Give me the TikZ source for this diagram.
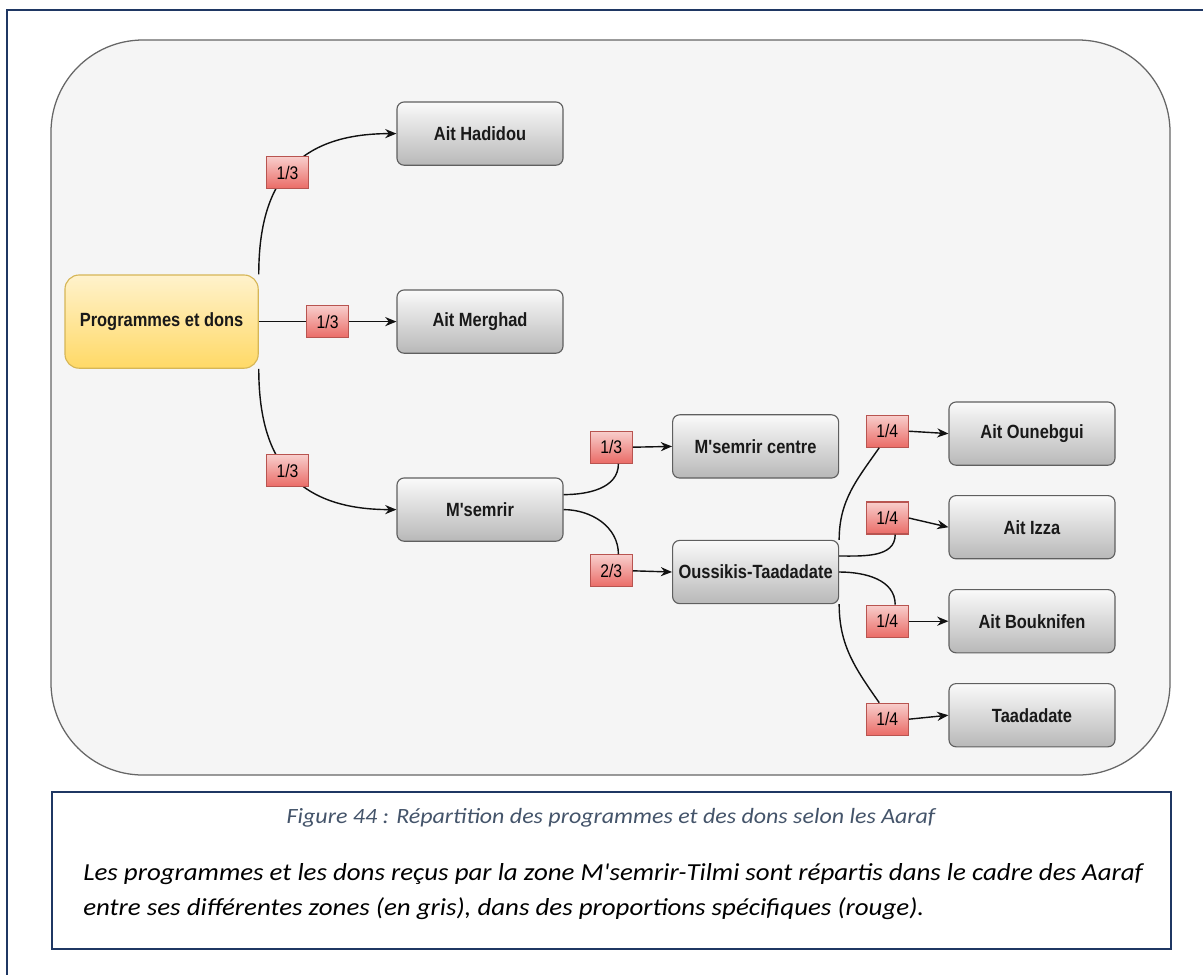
\documentclass[tikz,border=0pt]{standalone}
\usepackage{fontspec}
\usepackage{tikz}
\usetikzlibrary{arrows.meta,positioning,calc}
\newfontfamily\nodefont{Liberation Sans}[FakeStretch=0.86]
\newfontfamily\notefont{Carlito}[FakeStretch=1.1]
\definecolor{frameblue}{HTML}{1F3763}
\definecolor{capgray}{HTML}{44546A}
\definecolor{panelfill}{HTML}{F5F5F5}
\definecolor{panelline}{HTML}{666666}
\definecolor{zonetop}{HTML}{FAFAFA}
\definecolor{zonebot}{HTML}{B8B8B8}
\definecolor{zoneline}{HTML}{5F5F5F}
\definecolor{srctop}{HTML}{FFF2CC}
\definecolor{srcbot}{HTML}{FFD966}
\definecolor{srcline}{HTML}{D6B656}
\definecolor{parttop}{HTML}{F8CECC}
\definecolor{partbot}{HTML}{EA6B66}
\definecolor{partline}{HTML}{B85450}
\definecolor{edgeink}{HTML}{111111}

\begin{document}
\begin{tikzpicture}[
  zone/.style={rectangle, rounded corners=5pt, draw=zoneline, line width=0.8pt, top color=zonetop, bottom color=zonebot, minimum width=4.15cm, minimum height=1.58cm, font=\nodefont\fontsize{13.6}{16}\selectfont\bfseries, text=black!90},
  src/.style={zone, draw=srcline, top color=srctop, bottom color=srcbot, rounded corners=10pt, minimum width=4.83cm, minimum height=2.33cm},
  part/.style={rectangle, draw=partline, line width=0.8pt, top color=parttop, bottom color=partbot, minimum width=1.05cm, minimum height=0.8cm, inner sep=0pt, font=\nodefont\fontsize{13}{15}\selectfont},
  arr/.style={-{Stealth[length=8pt,width=6.5pt]}, line width=1pt, draw=edgeink},
  link/.style={line width=1pt, draw=edgeink},
  note/.style={font=\notefont\itshape\fontsize{17.4}{21}\selectfont, anchor=base west, inner sep=0pt}
]
  \useasboundingbox (0,0) rectangle (30.075,-24.35);
  % page frame and panel
  \draw[frameblue, line width=2pt] (0.175,-24.5) -- (0.175,-0.25) -- (30.2,-0.25);
  \draw[panelline, fill=panelfill, line width=0.9pt, rounded corners=2.3cm] (1.275,-1.0) rectangle (29.25,-19.375);

  % zones
  \node[src] (prog) at (4.04,-8.04) {Programmes et dons};
  \node[zone] (hadidou) at (12.0,-3.34) {Ait Hadidou};
  \node[zone] (merghad) at (12.0,-8.04) {Ait Merghad};
  \node[zone] (msemrir) at (12.0,-12.74) {M'semrir};
  \node[zone] (centre) at (18.89,-11.16) {M'semrir centre};
  \node[zone] (oussikis) at (18.89,-14.3) {Oussikis-Taadadate};
  \node[zone] (ounebgui) at (25.8,-10.84) {Ait Ounebgui};
  \node[zone] (izza) at (25.8,-13.18) {Ait Izza};
  \node[zone] (bouknifen) at (25.8,-15.53) {Ait Bouknifen};
  \node[zone] (taadadate) at (25.8,-17.88) {Taadadate};

  % first level
  \draw[arr] (prog.north east) .. controls +(0,2.1) and +(-2.675,0) .. (hadidou.west) node[part, midway] (p1) {1/3};
  \draw[arr] (prog.east) -- (merghad.west) node[part, midway] (p2) {1/3};
  \draw[arr] (prog.south east) .. controls +(0,-2.1) and +(-2.675,0) .. (msemrir.west) node[part, midway] (p3) {1/3};

  % M'semrir split
  \node[part] (p4) at (15.28,-11.18) {1/3};
  \node[part] (p5) at (15.28,-14.27) {2/3};
  \draw[link] ([yshift=0.375cm]msemrir.east) to[out=0, in=-90] ([xshift=0.18cm]p4.south);
  \draw[arr] (p4.east) -- (centre.west);
  \draw[link] (msemrir.east) to[out=0, in=90] ([xshift=0.18cm]p5.north);
  \draw[arr] (p5.east) -- (oussikis.west);

  % Oussikis-Taadadate split
  \node[part] (p6) at (22.18,-10.78) {1/4};
  \node[part] (p7) at (22.18,-12.95) {1/4};
  \node[part] (p8) at (22.18,-15.53) {1/4};
  \node[part] (p9) at (22.18,-17.98) {1/4};
  \draw[link] (oussikis.north east) to[out=90, in=235] ([xshift=-0.2cm]p6.south);
  \draw[arr] (p6.east) -- (ounebgui.west);
  \draw[link] ([yshift=0.4cm]oussikis.east) to[out=0, in=-90] ([xshift=0.2cm]p7.south);
  \draw[arr] (p7.east) -- (izza.west);
  \draw[link] (oussikis.east) to[out=0, in=90] ([xshift=0.2cm]p8.north);
  \draw[arr] (p8.east) -- (bouknifen.west);
  \draw[link] (oussikis.south east) to[out=-90, in=125] ([xshift=-0.2cm]p9.north);
  \draw[arr] (p9.east) -- (taadadate.west);

  % caption box
  \draw[frameblue, line width=1.6pt] (1.3,-19.8) rectangle (29.275,-23.725);
  \node[font=\notefont\itshape\fontsize{15.5}{19}\selectfont, text=capgray, anchor=base, inner sep=0pt] (caption) at (15.275,-20.575) {Figure 44 : Répartition des programmes et des dons selon les Aaraf};
  \node[note] (note1) at (2.075,-22.0) {Les programmes et les dons reçus par la zone M'semrir-Tilmi sont répartis dans le cadre des Aaraf};
  \node[note] (note2) at (2.075,-22.875) {entre ses différentes zones (en gris), dans des proportions spécifiques (rouge).};
\end{tikzpicture}
\end{document}
